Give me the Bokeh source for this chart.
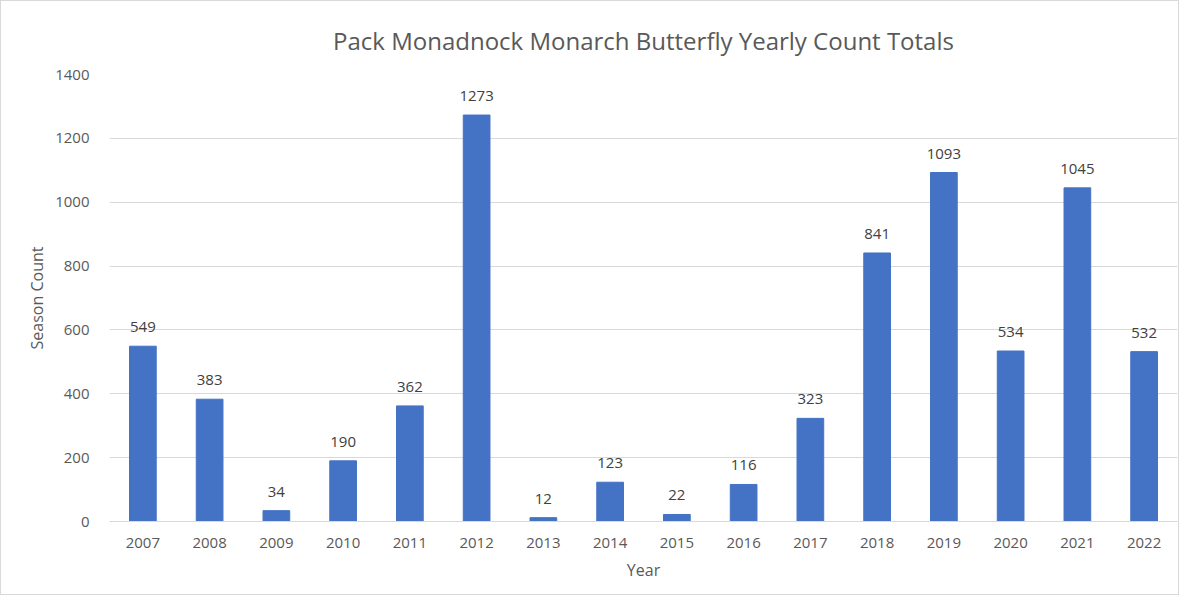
from bokeh.plotting import figure
from bokeh.models import ColumnDataSource, Range1d, FixedTicker, LabelSet
from bokeh.core.properties import value
from bokeh.embed import file_html
from bokeh.resources import INLINE

years = ["2007", "2008", "2009", "2010", "2011", "2012", "2013", "2014",
         "2015", "2016", "2017", "2018", "2019", "2020", "2021", "2022"]
counts = [549, 383, 34, 190, 362, 1273, 12, 123, 22, 116, 323, 841, 1093, 534, 1045, 532]
y_ticks = [0, 200, 400, 600, 800, 1000, 1200, 1400]

FONT = "Open Sans"
src = ColumnDataSource(dict(year=years, count=counts, label=[str(c) for c in counts]))

p = figure(x_range=years, y_range=Range1d(0, 1400), width=1179, height=595,
           output_backend="svg", toolbar_location=None,
           title="Pack Monadnock Monarch Butterfly Yearly Count Totals",
           min_border_left=108, min_border_right=3, min_border_top=73, min_border_bottom=75)
p.styles = {"border": "1px solid #d9d9d9"}
p.outline_line_color = None
p.title.align = "center"
p.title.vertical_align = "top"
p.title.text_font = FONT
p.title.text_font_size = "24px"
p.title.text_font_style = "normal"
p.title.text_color = "#595959"
p.title.standoff = 32

p.vbar(x="year", top="count", width=0.4, source=src, color="#4472C4")

labels = LabelSet(x="year", y="count", text="label", source=src, text_align="center",
                  text_baseline="bottom", y_offset=14, text_font=value(FONT),
                  text_font_size="15px", text_color="#404040")
p.add_layout(labels)

p.yaxis.ticker = FixedTicker(ticks=y_ticks)
p.ygrid.grid_line_color = "#d9d9d9"
p.xgrid.grid_line_color = None
for ax in (p.xaxis, p.yaxis):
    ax.major_tick_line_color = None
    ax.minor_tick_line_color = None
    ax.major_label_text_font = FONT
    ax.major_label_text_font_size = "15px"
    ax.major_label_text_color = "#595959"
    ax.axis_label_text_font = FONT
    ax.axis_label_text_font_size = "16px"
    ax.axis_label_text_font_style = "normal"
    ax.axis_label_text_color = "#595959"
p.yaxis.axis_line_color = None
p.xaxis.axis_line_color = "#d9d9d9"
p.yaxis.axis_label = "Season Count"
p.xaxis.axis_label = "Year"
p.yaxis.major_label_standoff = 14
p.xaxis.major_label_standoff = 10
p.yaxis.axis_label_standoff = 4
p.xaxis.axis_label_standoff = 8

open("out.html", "w").write(file_html(p, INLINE))
